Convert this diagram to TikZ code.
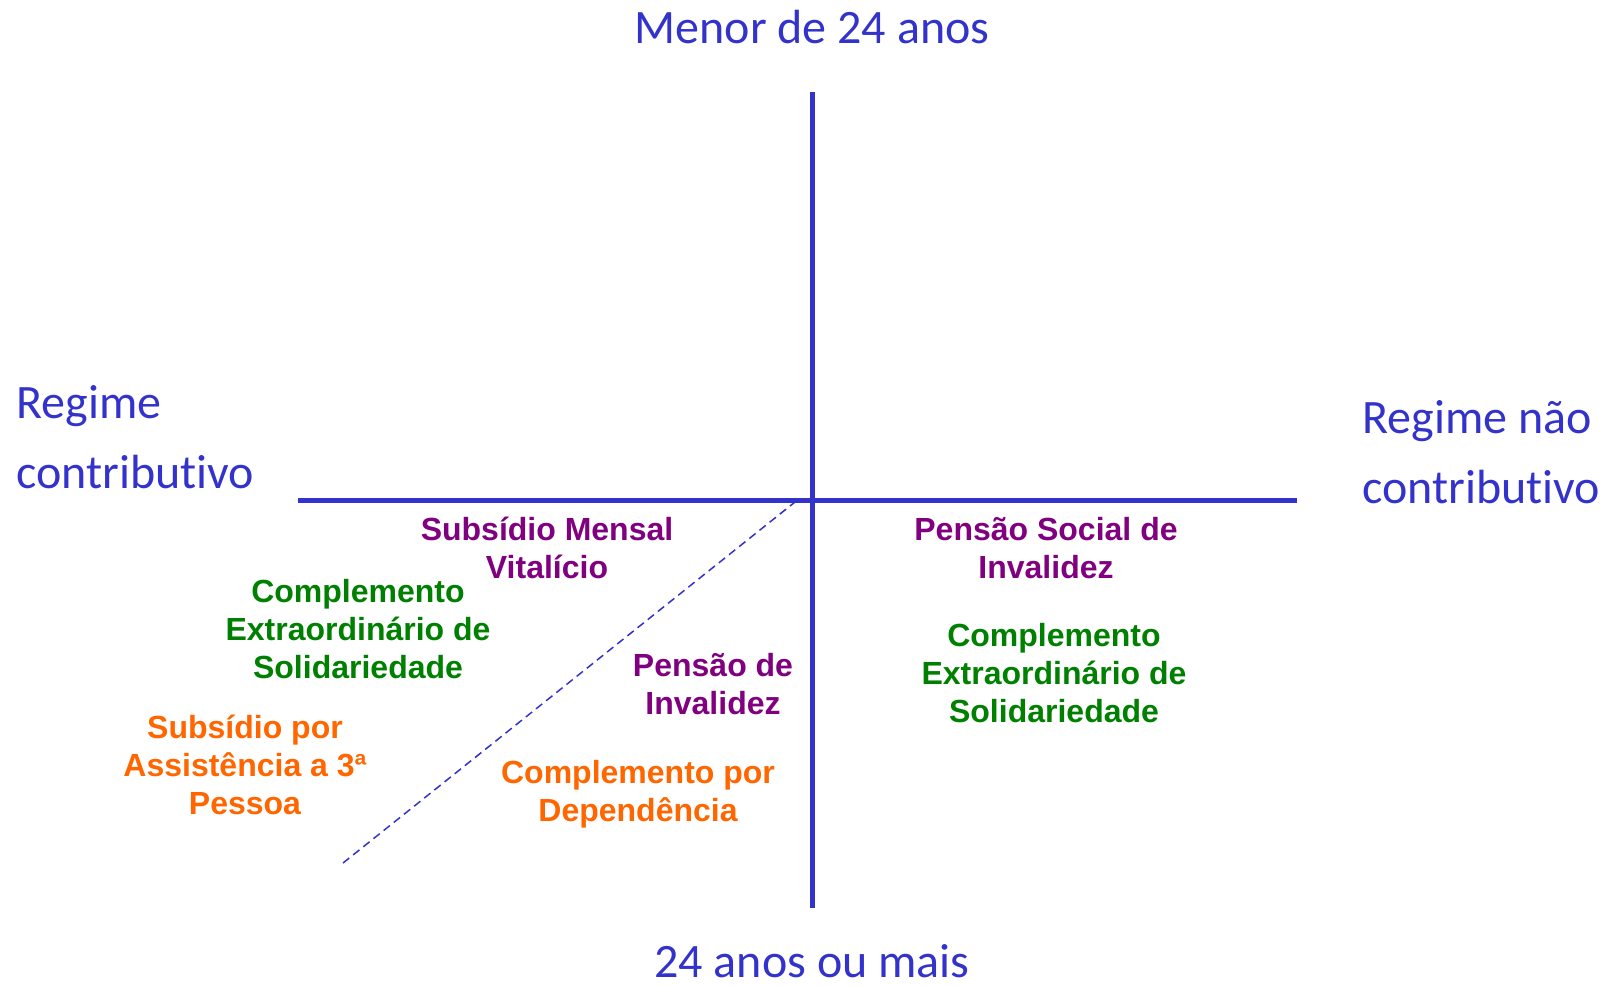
\documentclass[tikz,border=0pt]{standalone}
\usepackage{fontspec}
\setmainfont{Liberation Sans}
\newfontfamily\calibfont[Ligatures={NoCommon}]{Carlito}
\definecolor{axisblue}{RGB}{51,51,204}
\definecolor{lblpurple}{RGB}{128,0,128}
\definecolor{lblgreen}{RGB}{0,128,0}
\definecolor{lblorange}{RGB}{255,102,0}
\tikzset{
  axisline/.style={line width=2.5pt, draw=axisblue},
  splitline/.style={line width=0.75pt, draw=axisblue, dash pattern=on 4pt off 2.5pt},
  head/.style={text=axisblue, font=\calibfont\fontsize{24}{35}\selectfont, inner sep=0pt, anchor=base},
  lbl/.style={font=\bfseries\fontsize{16}{19}\selectfont, align=center, inner sep=0pt, anchor=base},
}
\begin{document}
\begin{tikzpicture}[x=0.5pt, y=-0.5pt]
		%%%%% START %%%%%
		\useasboundingbox (0, 0) rectangle (1605, 985);
		
		\coordinate (vtop) at (812, 92);
		\coordinate (vbot) at (812, 908);
		\coordinate (hleft) at (298, 500);
		\coordinate (hright) at (1297, 500);
		\coordinate (dlow) at (343, 863);
		\coordinate (dtip) at (795, 502);
		
		\draw[axisline] (vtop) -- (vbot);
		\draw[axisline] (hleft) -- (hright);
		\draw[splitline] (dlow) -- (dtip);
		
		% base = last line
		\node[head] (younger) at (812, 43) {Menor de 24 anos};
		\node[head] (older) at (812, 977) {24 anos ou mais};
		\node[head, anchor=base west, align=left] (contrib) at (16, 488) {Regime\\contributivo};
		\node[head, anchor=base west, align=left] (noncontrib) at (1362, 503) {Regime não\\contributivo};
		
		\node[lbl, text=lblpurple] (smv) at (547, 578) {Subsídio Mensal\\Vitalício};
		\node[lbl, text=lblgreen] (cesleft) at (358, 678) {Complemento\\Extraordinário de\\Solidariedade};
		\node[lbl, text=lblorange] (sat) at (245, 814) {Subsídio por\\Assistência a 3ª\\Pessoa};
		\node[lbl, text=lblpurple] (pinv) at (713, 714) {Pensão de\\Invalidez};
		\node[lbl, text=lblorange] (cdep) at (638, 821) {Complemento por\\Dependência};
		\node[lbl, text=lblpurple] (psi) at (1046, 578) {Pensão Social de\\Invalidez};
		\node[lbl, text=lblgreen] (cesright) at (1054, 722) {Complemento\\Extraordinário de\\Solidariedade};
		
		%%%%% END %%%%%
	\end{tikzpicture}
\end{document}
